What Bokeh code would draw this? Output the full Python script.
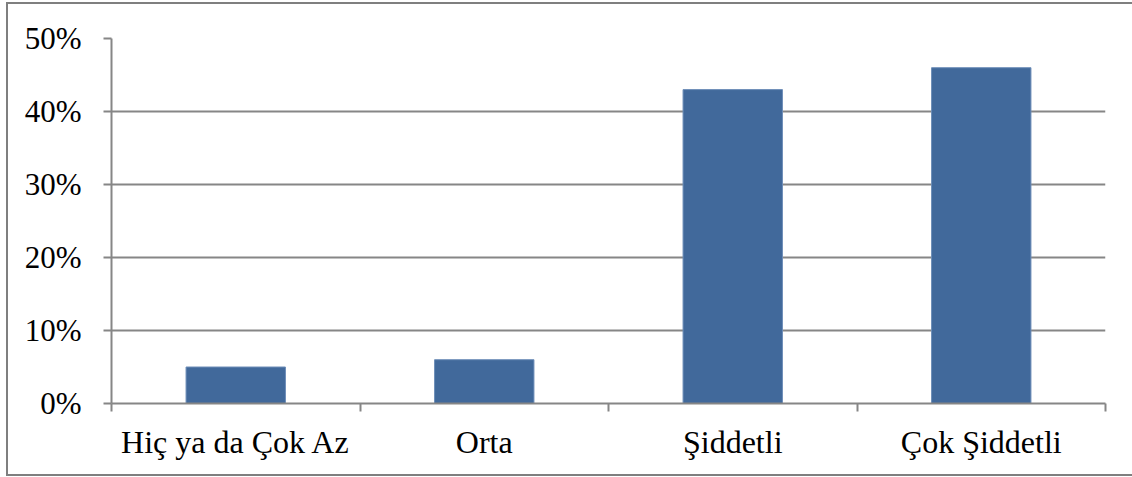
from bokeh.plotting import figure
from bokeh.models import Range1d, FixedTicker, PrintfTickFormatter, ColumnDataSource
from bokeh.embed import file_html
from bokeh.resources import INLINE

categories = ["Hiç ya da Çok Az", "Orta", "Şiddetli", "Çok Şiddetli"]
values = [5, 6, 43, 46]
y_ticks = [0, 10, 20, 30, 40, 50]

xs = [i + 0.5 for i in range(len(categories))]
src = ColumnDataSource(dict(x=xs, top=values))

p = figure(width=1125, height=470, output_backend="svg", toolbar_location=None,
           x_range=Range1d(0, len(categories)), y_range=Range1d(0, 50),
           frame_width=994, frame_height=365,
           min_border_left=103, min_border_right=28, min_border_top=34, min_border_bottom=71)
p.outline_line_color = None
p.styles = {"border": "2px solid #7f7f7f", "box-sizing": "border-box", "margin": "2px 0 0 6px"}

p.vbar(x="x", top="top", width=0.4, source=src, fill_color="#41699B", line_color="#6E8EB8", line_width=1)

FONT = "Liberation Serif"
p.xaxis.ticker = FixedTicker(ticks=xs, minor_ticks=list(range(len(categories) + 1)))
p.xaxis.major_label_overrides = {x: c for x, c in zip(xs, categories)}
p.xaxis.major_tick_line_color = None
p.xaxis.minor_tick_line_color = "#868686"
p.xaxis.minor_tick_line_width = 2
p.xaxis.minor_tick_out = 8
p.xaxis.minor_tick_in = 0
p.xaxis.axis_line_color = "#868686"
p.xaxis.axis_line_width = 2
p.xaxis.major_label_standoff = 12
p.xaxis.major_label_text_font = FONT
p.xaxis.major_label_text_font_size = "32px"
p.xaxis.major_label_text_color = "black"

p.yaxis.ticker = FixedTicker(ticks=y_ticks, minor_ticks=[])
p.yaxis.formatter = PrintfTickFormatter(format="%d%%")
p.yaxis.major_tick_out = 8
p.yaxis.major_tick_in = 0
p.yaxis.major_tick_line_color = "#868686"
p.yaxis.major_tick_line_width = 2
p.yaxis.axis_line_color = "#868686"
p.yaxis.axis_line_width = 2
p.yaxis.major_label_standoff = 22
p.yaxis.major_label_text_font = FONT
p.yaxis.major_label_text_font_size = "31px"
p.yaxis.major_label_text_color = "black"

p.xgrid.grid_line_color = None
p.ygrid.ticker = FixedTicker(ticks=y_ticks)
p.ygrid.grid_line_color = "#868686"
p.ygrid.grid_line_width = 2

open("out.html", "w").write(file_html(p, INLINE))
